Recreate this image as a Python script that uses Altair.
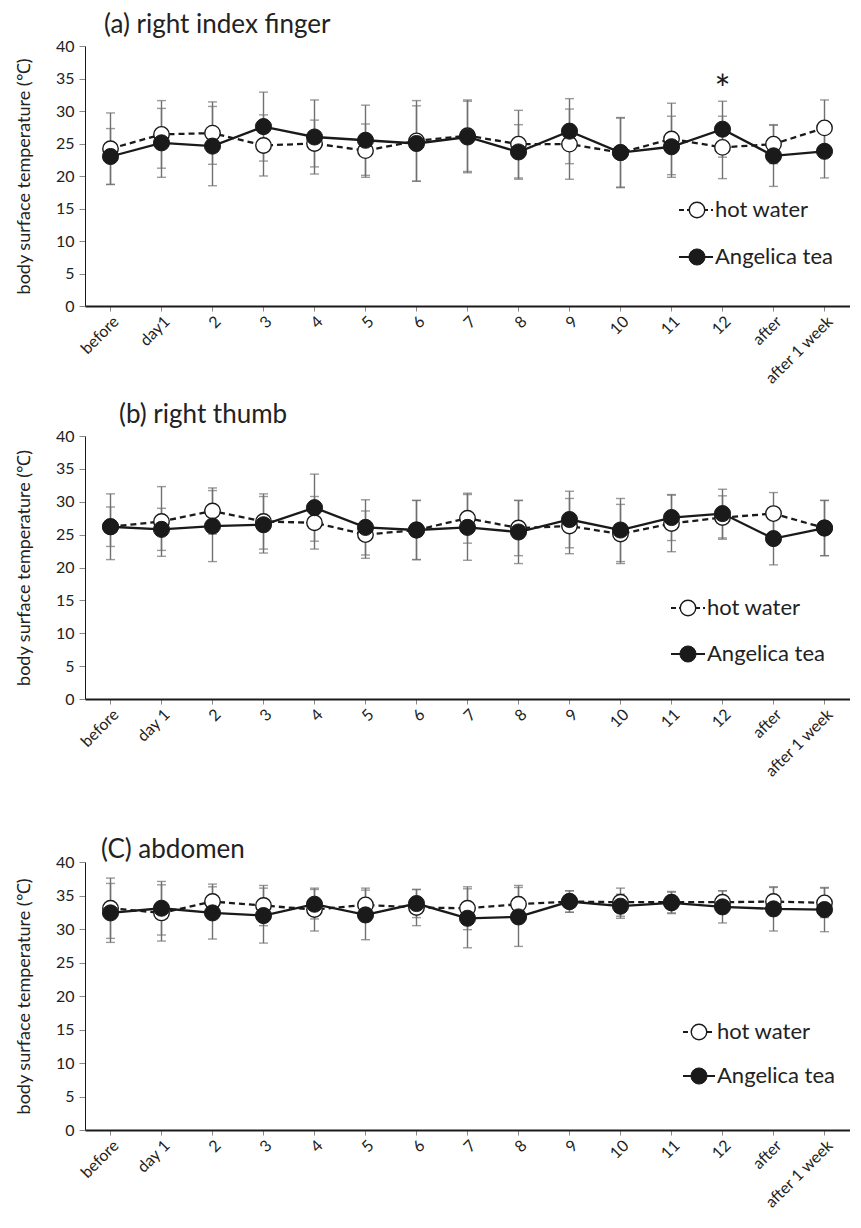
import altair as alt
import pandas as pd

# ---------------- data ----------------
cats_a = ["before", "day1", "2", "3", "4", "5", "6", "7", "8", "9", "10", "11", "12", "after", "after 1 week"]
cats_bc = ["before", "day 1", "2", "3", "4", "5", "6", "7", "8", "9", "10", "11", "12", "after", "after 1 week"]
series_names = ["hot water", "Angelica tea"]

# (a) right index finger
a_hot = [24.2, 26.4, 26.6, 24.7, 25.0, 23.9, 25.4, 26.2, 24.9, 24.9, 23.6, 25.7, 24.4, 24.9, 27.4]
a_hot_sd = [5.5, 5.2, 4.8, 4.7, 3.6, 4.1, 6.2, 5.5, 5.2, 5.4, 5.4, 5.5, 4.8, 3.0, 4.3]
a_ang = [23.0, 25.1, 24.6, 27.6, 26.0, 25.5, 25.0, 26.0, 23.7, 26.9, 23.6, 24.5, 27.2, 23.1, 23.8]
a_ang_sd = [4.3, 5.3, 6.1, 5.3, 5.7, 5.4, 5.8, 5.5, 4.2, 5.0, 5.3, 4.7, 4.3, 4.7, 4.1]

# (b) right thumb
b_hot = [26.2, 27.0, 28.6, 27.0, 26.8, 25.0, 25.7, 27.5, 26.0, 26.3, 25.1, 26.7, 27.6, 28.2, 26.0]
b_hot_sd = [5.0, 5.3, 3.5, 4.2, 4.0, 3.6, 4.5, 3.8, 4.2, 4.2, 4.5, 4.3, 3.3, 3.2, 4.2]
b_ang = [26.2, 25.8, 26.3, 26.5, 29.1, 26.1, 25.7, 26.1, 25.4, 27.3, 25.7, 27.6, 28.2, 24.4, 26.0]
b_ang_sd = [3.0, 3.2, 5.4, 4.3, 5.1, 4.2, 4.5, 5.0, 4.8, 4.3, 4.8, 3.5, 3.7, 4.0, 4.2]

# (c) abdomen
c_hot = [33.1, 32.4, 34.1, 33.5, 32.9, 33.6, 33.2, 33.1, 33.7, 34.1, 34.0, 34.0, 34.0, 34.1, 33.9]
c_hot_sd = [4.5, 4.2, 2.6, 3.0, 3.2, 2.5, 2.7, 3.2, 2.8, 1.6, 2.1, 1.6, 1.7, 2.1, 2.2]
c_ang = [32.4, 33.1, 32.4, 32.0, 33.7, 32.1, 33.8, 31.6, 31.8, 34.1, 33.4, 33.9, 33.3, 33.0, 32.9]
c_ang_sd = [4.4, 4.0, 3.9, 4.1, 2.2, 3.7, 2.1, 4.4, 4.4, 1.6, 1.8, 1.6, 2.4, 3.3, 3.3]

y_ticks = [0, 5, 10, 15, 20, 25, 30, 35, 40]
y_title = "body surface temperature (\u2103)"

FONT = "Lato"
INK = "#1a1a1a"
BAR = "#707070"


def make_df(cats, hot, hot_sd, ang, ang_sd):
    rows = []
    for c, m, s in zip(cats, hot, hot_sd):
        rows.append({"cat": c, "series": series_names[0], "mean": m, "sd": s})
    for c, m, s in zip(cats, ang, ang_sd):
        rows.append({"cat": c, "series": series_names[1], "mean": m, "sd": s})
    df = pd.DataFrame(rows)
    df["lo"] = df["mean"] - df["sd"]
    df["hi"] = df["mean"] + df["sd"]
    return df


def panel(cats, df, title, title_dx, title_offset, height, leg, star_cat=None):
    x = alt.X("cat:N", sort=cats,
              scale=alt.Scale(type="band", paddingInner=0, paddingOuter=0),
              axis=alt.Axis(title=None, labelAngle=-45, labelFont=FONT, labelFontSize=16,
                            labelColor="#222", labelPadding=2, tickSize=5, tickColor="#888",
                            domainColor=INK, domainWidth=2.2, grid=False, labelOverlap=False))
    yax = alt.Axis(values=y_ticks, title=y_title, titleFont=FONT, titleFontSize=18,
                   titleFontWeight="normal", titleColor="#222", titlePadding=22,
                   labelFont=FONT, labelFontSize=16, labelColor="#222", labelPadding=5,
                   tickSize=6, tickColor="#888", domainColor=INK, domainWidth=1, grid=False,
                   labelOverlap=False, labelBound=False, labelFlush=False)
    yscale = alt.Scale(domain=[0, 40], nice=False, zero=True)

    def Y(field):
        return alt.Y(field, scale=yscale, axis=yax)

    base = alt.Chart(df)
    err = base.mark_rule(color=BAR, strokeWidth=1.4).encode(
        x=x, y=Y("lo:Q"), y2="hi:Q")
    cap_lo = base.mark_tick(color=BAR, orient="horizontal", size=9, thickness=1.4).encode(
        x=x, y=Y("lo:Q"))
    cap_hi = base.mark_tick(color=BAR, orient="horizontal", size=9, thickness=1.4).encode(
        x=x, y=Y("hi:Q"))
    hot = base.transform_filter(alt.datum.series == series_names[0])
    ang = base.transform_filter(alt.datum.series == series_names[1])
    line_hot = hot.mark_line(color=INK, strokeWidth=2.3, strokeDash=[6, 4]).encode(
        x=x, y=Y("mean:Q"))
    line_ang = ang.mark_line(color=INK, strokeWidth=2.3).encode(
        x=x, y=Y("mean:Q"))
    pt_hot = hot.mark_point(shape="circle", filled=True, fill="white", stroke=INK,
                            strokeWidth=1.4, size=240, opacity=1).encode(
        x=x, y=Y("mean:Q"))
    pt_ang = ang.mark_point(shape="circle", filled=True, fill=INK, stroke=INK,
                            strokeWidth=1, size=260, opacity=1).encode(
        x=x, y=Y("mean:Q"))

    layers = [err, cap_lo, cap_hi, line_hot, line_ang, pt_hot, pt_ang]

    if star_cat is not None:
        star = ang.transform_filter(alt.datum.cat == star_cat).mark_text(
            text="*", fontSize=38, font=FONT, color=INK, baseline="middle", dy=-9).encode(
            x=x, y=Y("hi:Q"))
        layers.append(star)

    # legend (drawn inside the plot)
    lx0, lx1, lcx, ltx, ly1, ly2 = leg
    d1 = pd.DataFrame({"label": [series_names[0]]})
    d2 = pd.DataFrame({"label": [series_names[1]]})
    layers += [
        alt.Chart(d1).mark_rule(color=INK, strokeWidth=2, strokeDash=[5, 3]).encode(
            x=alt.value(lx0), x2=alt.value(lx1), y=alt.value(ly1)),
        alt.Chart(d1).mark_point(shape="circle", filled=True, fill="white", stroke=INK,
                                 strokeWidth=1.4, size=240, opacity=1).encode(
            x=alt.value(lcx), y=alt.value(ly1)),
        alt.Chart(d1).mark_text(align="left", baseline="middle", font=FONT, fontSize=22,
                                color="#222").encode(
            x=alt.value(ltx), y=alt.value(ly1), text="label:N"),
        alt.Chart(d2).mark_rule(color=INK, strokeWidth=2).encode(
            x=alt.value(lx0), x2=alt.value(lx1), y=alt.value(ly2)),
        alt.Chart(d2).mark_point(shape="circle", filled=True, fill=INK, stroke=INK,
                                 strokeWidth=1, size=260, opacity=1).encode(
            x=alt.value(lcx), y=alt.value(ly2)),
        alt.Chart(d2).mark_text(align="left", baseline="middle", font=FONT, fontSize=22,
                                color="#222").encode(
            x=alt.value(ltx), y=alt.value(ly2), text="label:N"),
    ]

    return alt.layer(*layers).properties(
        width=765, height=height,
        title=alt.TitleParams(title, anchor="start", frame="group", dx=title_dx,
                              offset=title_offset, fontSize=26, font=FONT,
                              fontWeight="normal", color="#222"))


df_a = make_df(cats_a, a_hot, a_hot_sd, a_ang, a_ang_sd)
df_b = make_df(cats_bc, b_hot, b_hot_sd, b_ang, b_ang_sd)
df_c = make_df(cats_bc, c_hot, c_hot_sd, c_ang, c_ang_sd)

pa = panel(cats_a, df_a, "(a) right index finger", 19, 0, 260,
           (594, 628, 612, 630, 164, 211), star_cat="12")
pb = panel(cats_bc, df_b, "(b) right thumb", 34, 0, 263,
           (586, 620, 603, 622, 172, 218))
pc = panel(cats_bc, df_c, "(C) abdomen", 16, -9, 268,
           (598, 630, 614, 632, 170, 214))

chart = alt.vconcat(pa, alt.vconcat(pb, pc, spacing=57), spacing=15).properties(
    padding={"left": 7, "top": 4, "right": 0, "bottom": 0}
).configure_view(stroke=None).configure_axisY(labelOverlap=False)

chart.save("out.html", embed_options={"renderer": "svg", "actions": False})
